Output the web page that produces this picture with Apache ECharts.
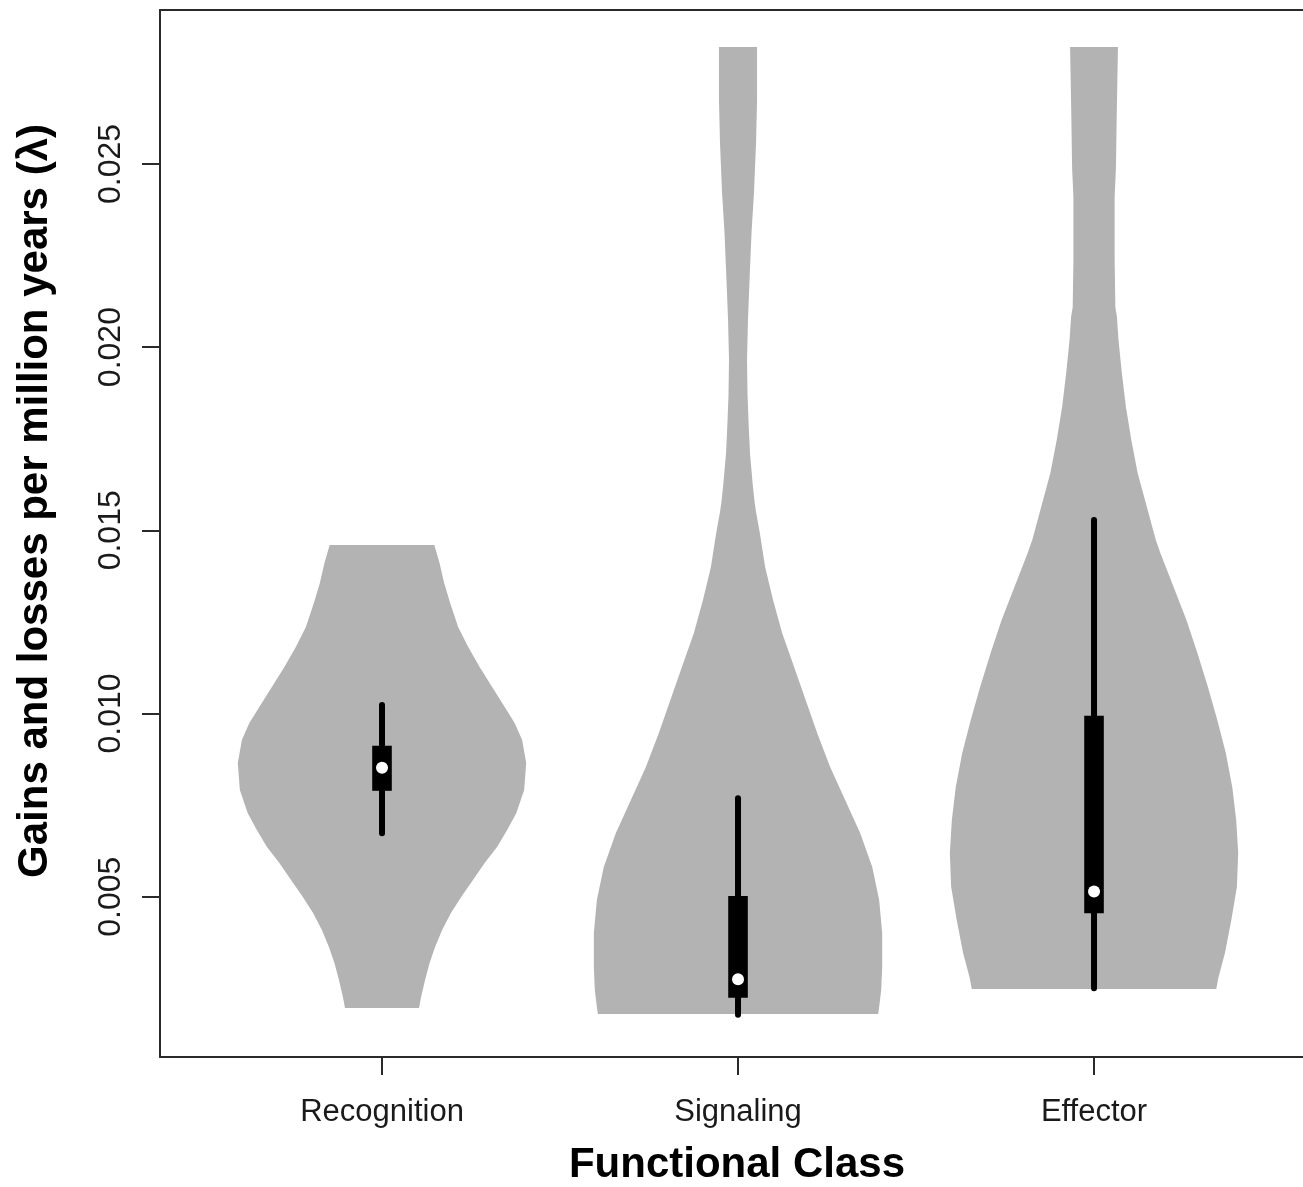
<!DOCTYPE html>
<html>
<head>
<meta charset="utf-8">
<script src="https://cdn.jsdelivr.net/npm/echarts@6/dist/echarts.min.js"></script>
<style>
  html, body { margin: 0; padding: 0; background: #ffffff; }
  #chart { width: 1303px; height: 1187px; }
</style>
</head>
<body>
<div id="chart"></div>
<script>
// Functional classes, placed at x = 1, 2, 3
const categories = ['Recognition', 'Signaling', 'Effector'];
const yTicks = [0.005, 0.010, 0.015, 0.020, 0.025];

// Violin outlines: rate values (top to bottom) with the relative density at each
const recognitionRate = [0.01460, 0.01411, 0.01356, 0.01302, 0.01236, 0.01182, 0.01127, 0.01072, 0.01018, 0.00974,
  0.00928, 0.00865, 0.00791, 0.00728, 0.00682, 0.00636, 0.00592, 0.00546, 0.00499,
  0.00456, 0.00409, 0.00363, 0.00319, 0.00273, 0.00226, 0.00196];
const recognitionDensity = [0.363, 0.399, 0.431, 0.472, 0.528, 0.597, 0.677, 0.764, 0.851, 0.920,
  0.972, 1.000, 0.986, 0.931, 0.868, 0.799, 0.712, 0.632, 0.549,
  0.479, 0.417, 0.368, 0.330, 0.299, 0.271, 0.257];

const signalingRate = [0.02819, 0.02674, 0.02557, 0.02423, 0.02314, 0.02183, 0.02074, 0.01965, 0.01869, 0.01787,
  0.01711, 0.01629, 0.01577, 0.01550, 0.01493, 0.01400, 0.01310, 0.01220, 0.01127, 0.01037,
  0.00947, 0.00854, 0.00764, 0.00674, 0.00581, 0.00491, 0.00401, 0.00308, 0.00245, 0.00199, 0.00180];
const signalingDensity = [0.132, 0.132, 0.125, 0.111, 0.094, 0.080, 0.069, 0.0625, 0.066, 0.074,
  0.083, 0.101, 0.115, 0.125, 0.151, 0.188, 0.243, 0.306, 0.389, 0.469,
  0.549, 0.639, 0.743, 0.847, 0.931, 0.979, 1.000, 1.000, 0.993, 0.979, 0.972];

const effectorRate = [0.02819, 0.02620, 0.02489, 0.02410, 0.02238, 0.02109, 0.02082, 0.02019, 0.01929, 0.01837,
  0.01746, 0.01656, 0.01564, 0.01474, 0.01438, 0.01345, 0.01255, 0.01165, 0.01072, 0.00982,
  0.00892, 0.00799, 0.00709, 0.00619, 0.00527, 0.00436, 0.00346, 0.00278, 0.00248];
const effectorDensity = [0.166, 0.157, 0.152, 0.143, 0.143, 0.148, 0.159, 0.170, 0.193, 0.221,
  0.259, 0.303, 0.366, 0.428, 0.460, 0.552, 0.641, 0.717, 0.790, 0.855,
  0.914, 0.959, 0.986, 1.000, 0.991, 0.952, 0.908, 0.862, 0.848];

// Box summaries: [lower whisker, Q1, median, Q3, upper whisker]
const recognitionStats = [0.00673, 0.00789, 0.00852, 0.00912, 0.01023];
const signalingStats = [0.00178, 0.00224, 0.00275, 0.00502, 0.00769];
const effectorStats = [0.00250, 0.00455, 0.00514, 0.00994, 0.01528];

const violinRates = [recognitionRate, signalingRate, effectorRate];
const violinDensities = [recognitionDensity, signalingDensity, effectorDensity];
const boxStats = [recognitionStats, signalingStats, effectorStats];

const HALF_WIDTH = 0.405;   // half width of a violin at peak density, in x units
const BOX_HALF = 0.0275;    // half width of the inner box, in x units
const VIOLIN_FILL = '#b3b3b3';
const AXIS_COLOR = '#2a2a2a';
const LABEL_FONT = '"Liberation Sans", Arial, sans-serif';

const chart = echarts.init(document.getElementById('chart'), null, { renderer: 'canvas' });

function renderViolin(params, api) {
  const i = params.dataIndex;
  const pos = api.value(0);
  const rates = violinRates[i];
  const dens = violinDensities[i];
  const pts = [];
  for (let k = 0; k < rates.length; k++) {
    pts.push(api.coord([pos + dens[k] * HALF_WIDTH, rates[k]]));
  }
  for (let k = rates.length - 1; k >= 0; k--) {
    pts.push(api.coord([pos - dens[k] * HALF_WIDTH, rates[k]]));
  }
  return {
    type: 'polygon',
    shape: { points: pts },
    style: { fill: VIOLIN_FILL, stroke: null }
  };
}

function renderBox(params, api) {
  const i = params.dataIndex;
  const pos = api.value(0);
  const s = boxStats[i];
  const wTop = api.coord([pos, s[4]]);
  const wBot = api.coord([pos, s[0]]);
  const bTL = api.coord([pos - BOX_HALF, s[3]]);
  const bBR = api.coord([pos + BOX_HALF, s[1]]);
  const med = api.coord([pos, s[2]]);
  return {
    type: 'group',
    children: [
      {
        type: 'line',
        shape: { x1: wTop[0], y1: wTop[1], x2: wBot[0], y2: wBot[1] },
        style: { stroke: '#000000', lineWidth: 6, lineCap: 'round' }
      },
      {
        type: 'rect',
        shape: { x: bTL[0], y: bTL[1], width: bBR[0] - bTL[0], height: bBR[1] - bTL[1] },
        style: { fill: '#000000' }
      },
      {
        type: 'circle',
        shape: { cx: med[0], cy: med[1], r: 6 },
        style: { fill: '#ffffff' }
      }
    ]
  };
}

const positions = categories.map((c, i) => [i + 1]);

const option = {
  animation: false,
  backgroundColor: '#ffffff',
  grid: { left: 160, right: 0, top: 10, bottom: 130, containLabel: false, outerBoundsMode: 'none' },
  xAxis: [
    {
      type: 'value',
      position: 'bottom',
      min: 0.3764,
      max: 3.587,
      axisLine: { show: true, onZero: false, lineStyle: { color: AXIS_COLOR, width: 2 } },
      axisTick: { show: true, length: 18, customValues: [1, 2, 3], lineStyle: { color: AXIS_COLOR, width: 2 } },
      axisLabel: {
        show: true,
        customValues: [1, 2, 3],
        formatter: (v) => categories[Math.round(v) - 1] || '',
        fontFamily: LABEL_FONT,
        fontSize: 31,
        color: '#1a1a1a',
        margin: 40
      },
      splitLine: { show: false }
    },
    {
      type: 'value',
      position: 'top',
      min: 0.3764,
      max: 3.587,
      axisLine: { show: true, onZero: false, lineStyle: { color: AXIS_COLOR, width: 2 } },
      axisTick: { show: false },
      axisLabel: { show: false },
      splitLine: { show: false }
    }
  ],
  yAxis: {
    type: 'value',
    min: 0.000625,
    max: 0.0292,
    axisLine: { show: true, onZero: false, lineStyle: { color: AXIS_COLOR, width: 2 } },
    axisTick: { show: true, length: 18, customValues: yTicks, lineStyle: { color: AXIS_COLOR, width: 2 } },
    axisLabel: {
      show: true,
      customValues: yTicks,
      rotate: 90,
      formatter: (v) => v.toFixed(3),
      fontFamily: LABEL_FONT,
      fontSize: 32,
      color: '#1a1a1a',
      margin: 33
    },
    splitLine: { show: false }
  },
  graphic: [
    {
      type: 'text',
      x: 35,
      y: 501,
      rotation: Math.PI / 2,
      style: {
        text: 'Gains and losses per million years (\u03bb)',
        fontFamily: LABEL_FONT,
        fontWeight: 'bold',
        fontSize: 42,
        fill: '#000000',
        align: 'center',
        verticalAlign: 'middle',
        textAlign: 'center',
        textVerticalAlign: 'middle'
      }
    },
    {
      type: 'text',
      x: 737,
      y: 1165,
      style: {
        text: 'Functional Class',
        fontFamily: LABEL_FONT,
        fontWeight: 'bold',
        fontSize: 42,
        fill: '#000000',
        align: 'center',
        verticalAlign: 'middle',
        textAlign: 'center',
        textVerticalAlign: 'middle'
      }
    }
  ],
  series: [
    {
      type: 'custom',
      name: 'violin',
      xAxisIndex: 0,
      yAxisIndex: 0,
      renderItem: renderViolin,
      encode: { x: 0 },
      data: positions,
      silent: true,
      z: 1
    },
    {
      type: 'custom',
      name: 'box',
      xAxisIndex: 0,
      yAxisIndex: 0,
      renderItem: renderBox,
      encode: { x: 0 },
      data: positions,
      silent: true,
      z: 2
    }
  ]
};

chart.setOption(option);
</script>
</body>
</html>
